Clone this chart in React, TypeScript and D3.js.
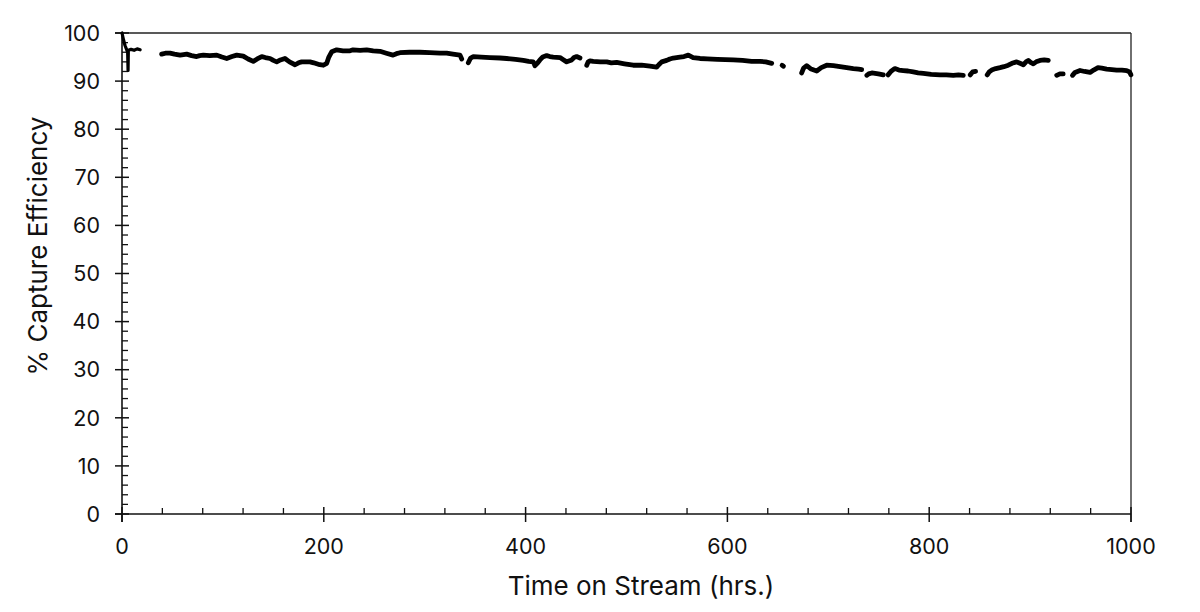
import React from "react";
import * as d3 from "d3";

// ---- data: [hours, % capture efficiency], broken into the segments visible in the chart ----
const seg01: [number, number][] = [
  [0, 100], [1.5, 98.6], [3, 97.4], [4.5, 96.6], [5.6, 96.0], [6, 92.2], [6.3, 96.4], [9, 96.6], [12, 96.4], [15, 96.7], [18, 96.5],
];
const seg02: [number, number][] = [
  [39.3, 95.6], [43, 95.8], [47.6, 95.8], [52, 95.6], [57.5, 95.4], [61, 95.5], [64.1, 95.6], [69, 95.3], [74, 95.1], [77, 95.3],
  [80.6, 95.4], [87, 95.3], [93.9, 95.4], [99, 95.0], [103.8, 94.7], [109, 95.1], [113.7, 95.4], [117, 95.3], [120.2, 95.2],
  [125, 94.6], [130.1, 94.1], [134, 94.6], [138.5, 95.1], [142, 94.9], [146.7, 94.7], [150, 94.3], [153.3, 94.0], [157, 94.4],
  [161.5, 94.7], [166, 94.0], [171.5, 93.4], [175, 93.8], [178.1, 94.0], [182, 94.0], [186.3, 94.0], [190, 93.8], [193, 93.6],
  [196, 93.4], [199.5, 93.3], [202.9, 93.7], [205, 95.0], [207.8, 96.1], [212.8, 96.5], [219, 96.3], [226, 96.3], [229, 96.5],
  [236, 96.4], [242.5, 96.5], [249, 96.3], [255.7, 96.2], [262, 95.8], [268.6, 95.4], [272, 95.7], [275.5, 95.9], [285, 96.0],
  [295.3, 96.0], [305, 95.9], [315.2, 95.8], [321.8, 95.8], [328, 95.6], [335, 95.4], [336.7, 94.6],
];
const seg03: [number, number][] = [
  [343.2, 93.8], [345.5, 94.8], [348.2, 95.1], [356, 95.0], [364.7, 94.9], [374.6, 94.8], [381.3, 94.7], [390, 94.5],
  [397.7, 94.3], [403, 94.1], [407.6, 94.0], [409.3, 93.2], [412, 93.8], [414.2, 94.4], [417, 95.0], [420.9, 95.3],
  [424, 95.1], [427.4, 95.0], [434.1, 94.9], [437, 94.5], [440.7, 94.0], [445.7, 94.4], [448, 94.9], [450.6, 95.1], [453.9, 94.8],
];
const seg04: [number, number][] = [
  [460.6, 93.3], [462, 94.0], [463.8, 94.2], [467.1, 94.1], [474, 94.0], [480.4, 94.0], [485, 93.8], [490.3, 93.9],
  [498, 93.6], [506.7, 93.3], [515, 93.3], [523.3, 93.1], [529.9, 92.9], [532, 93.4], [534.9, 94.0], [539.8, 94.3],
  [543, 94.6], [546.4, 94.8], [553, 95.0], [557, 95.1], [561.3, 95.4], [566, 94.9], [572.8, 94.7], [580, 94.6],
  [590, 94.5], [605.8, 94.4], [615, 94.3], [624, 94.1], [632.3, 94.1], [638, 94.0], [643.9, 93.7],
];
const seg05: [number, number][] = [
  [654.2, 93.3], [655.6, 93.1],
];
const seg06: [number, number][] = [
  [673.6, 91.7], [675.5, 92.7], [678.6, 93.2], [683, 92.5], [688.5, 92.1], [693, 92.8], [698.4, 93.3], [705, 93.2],
  [711.6, 93.0], [718.2, 92.8], [724.8, 92.6], [730, 92.5], [733.1, 92.4],
];
const seg07: [number, number][] = [
  [738.1, 91.2], [740, 91.5], [743.1, 91.7], [749.6, 91.5], [754.5, 91.3],
];
const seg08: [number, number][] = [
  [759.2, 91.3], [762, 92.0], [764.4, 92.4], [766, 92.6], [770, 92.3], [774.3, 92.2], [779, 92.1], [784.2, 91.9],
  [789, 91.7], [794.2, 91.6], [802, 91.4], [810.7, 91.3], [817, 91.3], [823.9, 91.2], [829, 91.3], [833.8, 91.2],
];
const seg09: [number, number][] = [
  [840.6, 91.3], [843, 91.9], [846, 92.0],
];
const seg10: [number, number][] = [
  [857.5, 91.3], [859.5, 91.9], [861.9, 92.3], [866, 92.6], [870.2, 92.8], [874, 93.0], [878.4, 93.3], [882, 93.7],
  [886.7, 94.0], [890, 93.7], [893.3, 93.4], [896, 94.0], [898.2, 94.3], [900.5, 93.9], [903.2, 93.6], [906, 94.0],
  [909.8, 94.3], [914, 94.4], [918, 94.3],
];
const seg11: [number, number][] = [
  [926.4, 91.2], [929.5, 91.5], [932.8, 91.5],
];
const seg12: [number, number][] = [
  [942, 91.2], [944.5, 91.8], [949.5, 92.2], [954, 92.0], [959.4, 91.8], [963, 92.3], [967.3, 92.8], [971, 92.7],
  [975.9, 92.5], [981, 92.4], [985.8, 92.3], [991, 92.3], [995.7, 92.2], [998.5, 91.9], [1000, 91.3],
];
const segments = [seg01, seg02, seg03, seg04, seg05, seg06, seg07, seg08, seg09, seg10, seg11, seg12];

const xMajorTicks = [0, 200, 400, 600, 800, 1000];
const xMinorStep = 40;
const yMajorTicks = [0, 10, 20, 30, 40, 50, 60, 70, 80, 90, 100];
const yMinorStep = 2;
const xTitle = "Time on Stream (hrs.)";
const yTitle = "% Capture Efficiency";

const W = 1200;
const H = 612;
const L = 122, R = 1131, T = 33, B = 514;
const FONT = "Inter, 'Noto Sans', sans-serif";

export default function App() {
  const x = d3.scaleLinear().domain([0, 1000]).range([L, R]);
  const y = d3.scaleLinear().domain([0, 100]).range([B, T]);
  const line = d3.line<[number, number]>().x((d) => x(d[0])).y((d) => y(d[1]));

  const xMinor = d3.range(0, 1000 + 1e-6, xMinorStep).filter((v) => !xMajorTicks.includes(v));
  const yMinor = d3.range(0, 100 + 1e-6, yMinorStep).filter((v) => !yMajorTicks.includes(v));

  return (
    <svg width={W} height={H} style={{ position: "absolute", left: 0, top: 0, background: "#fff" }}>
      <rect x={0} y={0} width={W} height={H} fill="#fff" />
      {/* frame */}
      <line x1={L - 7} x2={R} y1={T} y2={T} stroke="#222" strokeWidth={1.3} />
      <line x1={R} x2={R} y1={T} y2={B + 8} stroke="#222" strokeWidth={1.3} />
      {/* axes */}
      <line x1={L} x2={L} y1={T} y2={B + 8} stroke="#111" strokeWidth={1.6} />
      <line x1={L - 7} x2={R} y1={B} y2={B} stroke="#111" strokeWidth={1.6} />
      {/* y ticks */}
      {yMajorTicks.map((v) => (
        <g key={"ym" + v}>
          <line x1={L - 7} x2={L + 7} y1={y(v)} y2={y(v)} stroke="#111" strokeWidth={1.5} />
          <text x={100} y={y(v)} dy="0.36em" textAnchor="end" fontFamily={FONT} fontSize={21.5} fill="#111">
            {v}
          </text>
        </g>
      ))}
      {yMinor.map((v) => (
        <line key={"yn" + v} x1={L} x2={L + 6} y1={y(v)} y2={y(v)} stroke="#111" strokeWidth={1.3} />
      ))}
      {/* x ticks */}
      {xMajorTicks.map((v) => (
        <g key={"xm" + v}>
          <line x1={x(v)} x2={x(v)} y1={B - 7} y2={B + 8} stroke="#111" strokeWidth={1.5} />
          <text x={x(v)} y={554} textAnchor="middle" fontFamily={FONT} fontSize={21.5} fill="#111">
            {v}
          </text>
        </g>
      ))}
      {xMinor.map((v) => (
        <line key={"xn" + v} x1={x(v)} x2={x(v)} y1={B - 6} y2={B} stroke="#111" strokeWidth={1.3} />
      ))}
      {/* data */}
      {segments.map((s, i) => (
        <path
          key={"s" + i}
          d={line(s) || ""}
          fill="none"
          stroke="#000"
          strokeWidth={i === 0 ? 3.2 : 4.8}
          strokeLinecap="round"
          strokeLinejoin="round"
        />
      ))}
      {/* titles */}
      <text x={641} y={595} textAnchor="middle" fontFamily={FONT} fontSize={26} fill="#111">
        {xTitle}
      </text>
      <text
        transform={`translate(47,246) rotate(-90)`}
        textAnchor="middle"
        fontFamily={FONT}
        fontSize={26}
        fill="#111"
      >
        {yTitle}
      </text>
    </svg>
  );
}
